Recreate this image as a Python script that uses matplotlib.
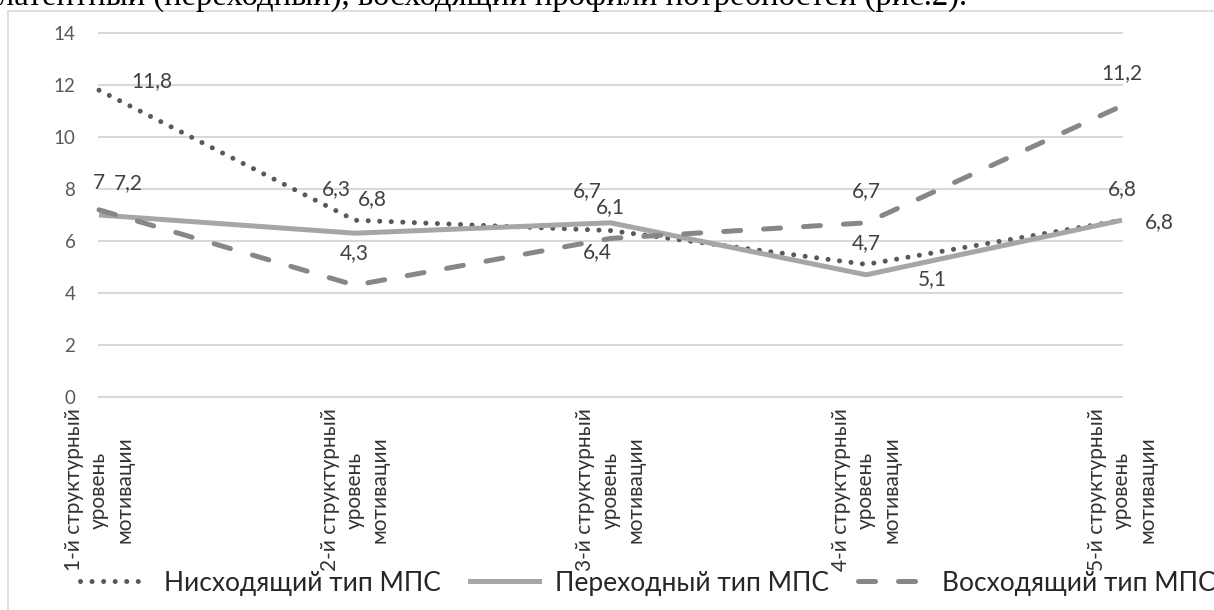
import matplotlib
matplotlib.use("Agg")
import matplotlib.pyplot as plt
from matplotlib.patches import Rectangle
from matplotlib.lines import Line2D

# chart data
categories = [
    "1-й структурный\nуровень\nмотивации",
    "2-й структурный\nуровень\nмотивации",
    "3-й структурный\nуровень\nмотивации",
    "4-й структурный\nуровень\nмотивации",
    "5-й структурный\nуровень\nмотивации",
]
descending = [11.8, 6.8, 6.4, 5.1, 6.8]
transitional = [7, 6.3, 6.7, 4.7, 6.8]
ascending = [7.2, 4.3, 6.1, 6.7, 11.2]
series_names = ["Нисходящий тип МПС", "Переходный тип МПС", "Восходящий тип МПС"]
yticks = [0, 2, 4, 6, 8, 10, 12, 14]
caption = "латентный (переходный), восходящий профили потребностей (рис.2)."

W, H = 1214, 610
plt.rcParams['font.family'] = ['Lato', 'DejaVu Sans']

fig = plt.figure(figsize=(W / 100, H / 100), dpi=100)
ax = fig.add_axes([99 / W, 1 - 397 / H, 1023 / W, 364 / H])

x = list(range(len(categories)))

# line styles (width in px -> pt)
px = 0.72
dot_dash = (0.01, 2.3)
long_dash = (3.4, 4.6)
ln_desc, = ax.plot(x, descending, color='#595959', lw=5 * px, clip_on=False,
                   dash_capstyle='round', zorder=3)
ln_desc.set_dashes(dot_dash)
ln_tran, = ax.plot(x, transitional, color='#a6a6a6', lw=5 * px, clip_on=False,
                   solid_capstyle='butt', zorder=4)
ln_asc, = ax.plot(x, ascending, color='#878787', lw=5 * px, clip_on=False,
                  dash_capstyle='round', zorder=5)
ln_asc.set_dashes(long_dash)

# data label offsets in pixels
offsets = {
    0: [(53, 9), (18, 21), (-13, -21), (66, -15), (37, -2)],
    1: [(0, 32), (-18, 44), (-23, 32), (0, 32), (0, 31)],
    2: [(29, 27), (0, 32), (0, 31), (0, 32), (0, 33)],
}
for si, vals in enumerate([descending, transitional, ascending]):
    for i, v in enumerate(vals):
        lbl = f"{v:g}".replace('.', ',')
        ax.annotate(lbl, (i, v), xytext=offsets[si][i], textcoords='offset pixels',
                    ha='center', va='center', fontsize=15, color='#404040', zorder=6)

ax.set_xlim(0, len(categories) - 1)
ax.set_ylim(0, 14)
ax.set_yticks(yticks)
ax.set_xticks([])
ax.grid(axis='y', color='#d9d9d9', lw=1.5)
for gl in ax.get_ygridlines():
    gl.set_clip_on(False)
ax.set_axisbelow(True)
for s in ax.spines.values():
    s.set_visible(False)
ax.tick_params(axis='y', length=0, pad=17, labelcolor='#595959', labelsize=13.5)

# rotated category labels
for i, c in enumerate(categories):
    ax.text(i, -93 / 364, c, transform=ax.get_xaxis_transform(), rotation=90,
            ha='center', va='center', multialignment='center', fontsize=15,
            color='#333333', linespacing=1.32)

handles = [
    Line2D([], [], color='#595959', lw=5 * px, dashes=dot_dash, dash_capstyle='round'),
    Line2D([], [], color='#a6a6a6', lw=5 * px),
    Line2D([], [], color='#878787', lw=5 * px, dashes=long_dash, dash_capstyle='round'),
]
fig.legend(handles, series_names, loc='center', bbox_to_anchor=(648 / W, 1 - 583 / H),
           ncol=3, frameon=False, fontsize=19, handlelength=2.6, handletextpad=0.6,
           columnspacing=1.1, labelcolor='#262626')

# chart border and cut-off caption above
fig.patches.append(Rectangle((8 / W, -0.1), 1.2, (1 - 11 / H) + 0.1, transform=fig.transFigure,
                             fill=False, ec='#d9d9d9', lw=1.2))
fig.text(-2 / W, 1 - 5 / H, caption, fontsize=23.5, family='Liberation Serif',
         ha='left', va='baseline', color='black')

fig.savefig("out.png", dpi=100)
